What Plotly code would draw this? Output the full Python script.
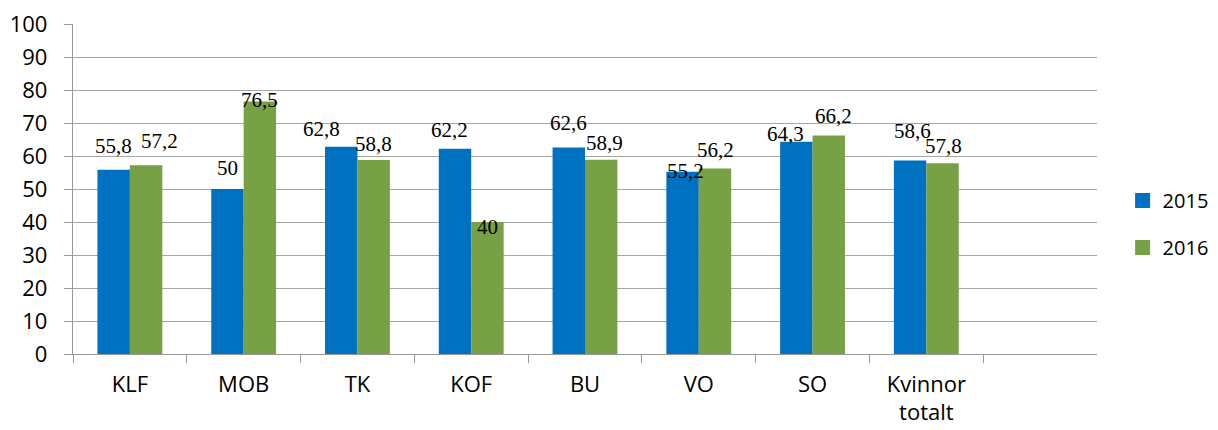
import plotly.graph_objects as go

# ---- data ----
categories = ["KLF", "MOB", "TK", "KOF", "BU", "VO", "SO", "Kvinnor<br>totalt"]
years = ["2015", "2016"]
values_2015 = [55.8, 50, 62.8, 62.2, 62.6, 55.2, 64.3, 58.6]
values_2016 = [57.2, 76.5, 58.8, 40, 58.9, 56.2, 66.2, 57.8]
y_ticks = [0, 10, 20, 30, 40, 50, 60, 70, 80, 90, 100]

# ---- styling ----
colors = ["#0070C0", "#78A044"]
BARGAP = 0.43
# label nudges (dx, dy) in px relative to default position (centered, ~20px above bar top)
label_nudge = {
    (0, 0): (0, -4), (1, 0): (13, -4),
    (0, 1): (0, -1), (1, 1): (0, 18),
    (0, 2): (-20, 2), (1, 2): (0, 4),
    (0, 3): (-6, 1), (1, 3): (0, 25),
    (0, 4): (0, -4), (1, 4): (3, 3),
    (0, 5): (3, 19), (1, 5): (1, 1),
    (0, 6): (-11, 12), (1, 6): (5, 0),
    (0, 7): (2, -10), (1, 7): (1, 3),
}

fig = go.Figure()
series = [values_2015, values_2016]
for i, (yr, vals) in enumerate(zip(years, series)):
    fig.add_trace(go.Bar(
        x=categories, y=vals, name=yr, showlegend=False,
        marker=dict(color=colors[i], line=dict(width=0)),
    ))
    # legend proxies with larger square symbols
    fig.add_trace(go.Scatter(
        x=[None], y=[None], mode="markers", name=yr, legendgroup=yr,
        marker=dict(symbol="square", size=15, color=colors[i]),
    ))

bar_w = (1 - BARGAP) / 2
annotations = []
for i, vals in enumerate(series):
    off = (i - 0.5) * bar_w
    for j, v in enumerate(vals):
        dx, dy = label_nudge.get((i, j), (0, 0))
        annotations.append(dict(
            x=j + off, y=v, xref="x", yref="y",
            text=str(v).replace(".", ","), showarrow=False,
            xanchor="center", yanchor="middle",
            xshift=dx, yshift=20 - dy,
            font=dict(family="Liberation Serif", size=21, color="black"),
        ))

# page body has an 8px margin; figure is sized/offset to compensate
fig.update_layout(
    width=1202, height=422,
    margin=dict(l=65, r=113, t=16, b=76, autoexpand=False),
    paper_bgcolor="white", plot_bgcolor="white",
    barmode="group", bargap=BARGAP, bargroupgap=0,
    font=dict(family="Open Sans", size=22, color="black"),
    annotations=annotations,
    legend=dict(x=1.025, y=0.394, xanchor="left", yanchor="middle",
                font=dict(size=20), tracegroupgap=18, traceorder="grouped",
                itemsizing="trace", bgcolor="rgba(0,0,0,0)"),
)
fig.update_xaxes(
    type="category", categoryorder="array", categoryarray=categories,
    range=[-0.5, 8.5], tickson="boundaries", ticks="outside", ticklen=8,
    tickcolor="#999999", showline=True, linecolor="#999999", linewidth=1.3,
    showgrid=False, ticklabelstandoff=10, zeroline=False, automargin=False,
    ticklabeloverflow="allow",
)
fig.update_yaxes(
    range=[0, 100], tickvals=y_ticks, ticks="outside", ticklen=8,
    tickcolor="#999999", showline=True, linecolor="#999999", linewidth=1.3,
    showgrid=True, gridcolor="#A6A6A6", gridwidth=1.3, zeroline=False,
    ticklabelstandoff=12, automargin=False, ticklabeloverflow="allow",
)

fig.write_html("out.html")
